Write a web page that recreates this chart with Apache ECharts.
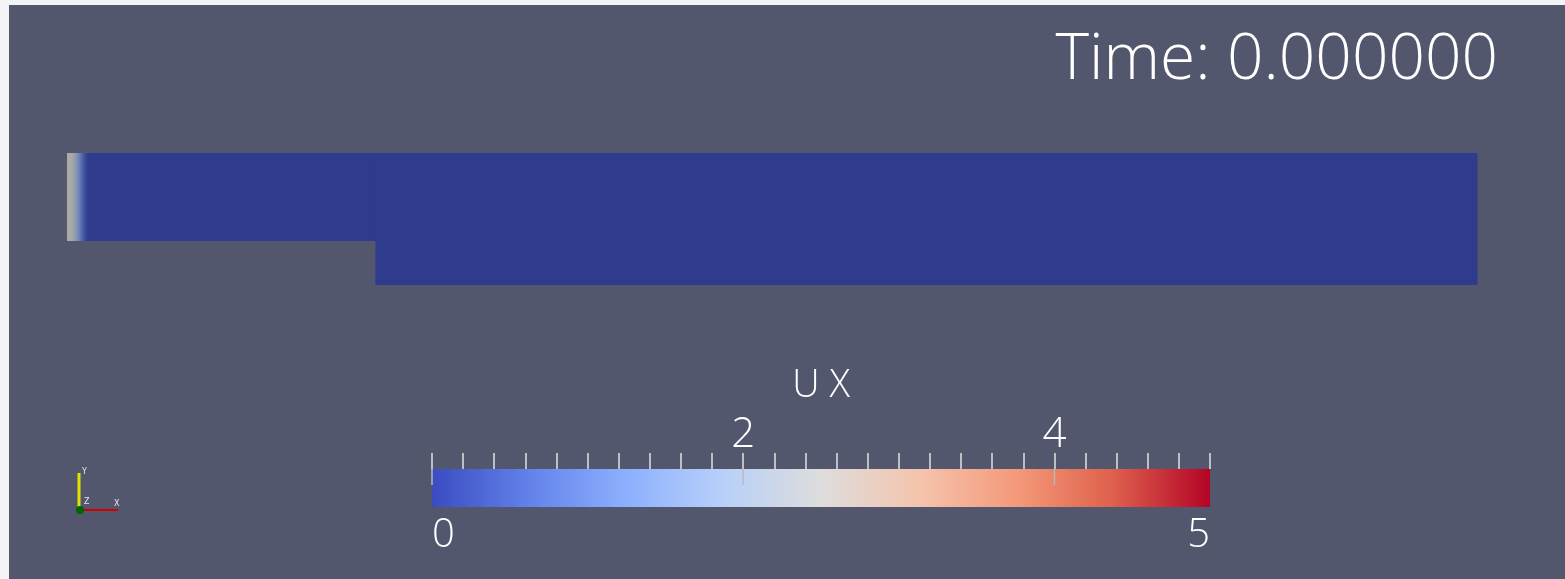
<!DOCTYPE html>
<html>
<head>
<meta charset="utf-8">
<script src="https://cdn.jsdelivr.net/npm/echarts@6/dist/echarts.min.js"></script>
<style>
html,body{margin:0;padding:0;background:#f4f4f4;}
#chart{width:1565px;height:579px;}
</style>
</head>
<body>
<div id="chart"></div>
<script>
// ---- data ----
const timeLabel = 'Time: 0.000000';
const fieldName = 'U X';
const rangeMin = 0;
const rangeMax = 5;
const topTickLabels = [2, 4];
const bottomTickLabels = [0, 5];
const majorTicks = [0, 2, 4];
// domain blocks: [x0, x1, y0, y1, UX]
const domainBlocks = [
  [0, 7, 1, 3, 0],
  [7, 32, 0, 3, 0]
];
// inlet profile along x (upstream channel y 1..3): positions and UX values
const inletX = [0, 0.08, 0.16, 0.24, 0.32, 0.40, 0.48];
const inletU = [2.5, 2.4, 2.0, 1.4, 0.8, 0.3, 0];
// colormap stops (Cool to Warm)
const cmapPos = [0, 0.125, 0.25, 0.375, 0.5, 0.625, 0.75, 0.875, 1];
const cmapRGB = [
  [59,76,192],[98,130,234],[141,176,254],[184,208,249],[221,221,221],
  [245,196,173],[244,154,123],[222,96,77],[180,4,38]
];

function cmap(v, k) {
  let t = (v - rangeMin) / (rangeMax - rangeMin);
  t = Math.max(0, Math.min(1, t));
  let i = 0;
  while (i < cmapPos.length - 2 && t > cmapPos[i + 1]) i++;
  const f = (t - cmapPos[i]) / (cmapPos[i + 1] - cmapPos[i]);
  const c = cmapRGB[i].map((a, j) => a + (cmapRGB[i + 1][j] - a) * f);
  const kk = k || [1, 1, 1];
  return 'rgb(' + c.map((a, j) => Math.round(a * kk[j])).join(',') + ')';
}
const shade = [0.79, 0.77, 0.73];

// cells: [x0, x1, y0, y1, uLeft, uRight]
const cells = domainBlocks.map(b => [b[0], b[1], b[2], b[3], b[4], b[4]]);
for (let i = 0; i < inletX.length - 1; i++) {
  cells.push([inletX[i], inletX[i + 1], 1, 3, inletU[i], inletU[i + 1]]);
}

const FONT = 'Open Sans';
const chart = echarts.init(document.getElementById('chart'));
const isOneOf = (v, arr) => arr.some(a => Math.abs(a - v) < 1e-6);

chart.setOption({
  backgroundColor: '#f4f4f4',
  animation: false,
  title: {
    text: timeLabel,
    right: 62,
    top: 24,
    textStyle: { color: '#ffffff', fontSize: 64, fontWeight: 300, fontFamily: FONT }
  },
  graphic: [
    { type: 'rect', z: -100, shape: { x: 9, y: 5, width: 1556, height: 574 }, style: { fill: '#52576e' }, silent: true },
    { type: 'line', shape: { x1: 79, y1: 510, x2: 79, y2: 473 }, style: { stroke: '#e3e300', lineWidth: 3 } },
    { type: 'line', shape: { x1: 79, y1: 510, x2: 118, y2: 510 }, style: { stroke: '#d40000', lineWidth: 2 } },
    { type: 'circle', shape: { cx: 80, cy: 510, r: 4 }, style: { fill: '#006400' } },
    { type: 'text', x: 82, y: 468, style: { text: 'Y', fill: '#e8e8e8', fontSize: 8, fontFamily: 'DejaVu Sans' } },
    { type: 'text', x: 84, y: 498, style: { text: 'Z', fill: '#e8e8e8', fontSize: 8, fontFamily: 'DejaVu Sans' } },
    { type: 'text', x: 114, y: 500, style: { text: 'X', fill: '#e8e8e8', fontSize: 8, fontFamily: 'DejaVu Sans' } }
  ],
  grid: [
    { left: 67, top: 153, width: 1410, height: 132 },
    { left: 432, top: 469, width: 778, height: 38 }
  ],
  xAxis: [
    { gridIndex: 0, type: 'value', min: 0, max: 32, show: false },
    {
      gridIndex: 1, type: 'value', min: rangeMin, max: rangeMax, interval: 0.2, position: 'top', z: 10,
      axisLine: { show: true, onZero: false, lineStyle: { color: 'rgba(0,0,0,0)', width: 1 } },
      axisTick: { show: true, inside: false, interval: 0, length: 16, lineStyle: { color: '#e2e2e2', width: 1.5 } },
      splitLine: { show: false },
      axisLabel: {
        show: true, margin: 13, interval: 0, color: '#ffffff', fontSize: 42, fontWeight: 300, fontFamily: FONT,
        formatter: v => isOneOf(v, topTickLabels) ? String(Math.round(v)) : ''
      },
      name: fieldName, nameLocation: 'middle', nameGap: 64,
      nameTextStyle: { color: '#ffffff', fontSize: 38, fontWeight: 300, fontFamily: FONT }
    },
    {
      gridIndex: 1, type: 'value', min: rangeMin, max: rangeMax, interval: 5, position: 'bottom', z: 10,
      axisLine: { show: false, onZero: false }, axisTick: { show: false }, splitLine: { show: false },
      axisLabel: {
        show: true, margin: 9, color: '#ffffff', fontSize: 40, fontWeight: 300, fontFamily: FONT,
        alignMinLabel: 'left', alignMaxLabel: 'right',
        formatter: v => isOneOf(v, bottomTickLabels) ? String(Math.round(v)) : ''
      }
    }
  ],
  yAxis: [
    { gridIndex: 0, type: 'value', min: 0, max: 3, show: false },
    { gridIndex: 1, type: 'value', min: 0, max: 1, show: false }
  ],
  series: [
    {
      type: 'custom', xAxisIndex: 0, yAxisIndex: 0, data: cells,
      renderItem: (params, api) => {
        const p0 = api.coord([api.value(0), api.value(3)]);
        const p1 = api.coord([api.value(1), api.value(2)]);
        const uL = api.value(4), uR = api.value(5);
        const fill = uL === uR ? cmap(uL, shade) :
          new echarts.graphic.LinearGradient(0, 0, 1, 0, [
            { offset: 0, color: cmap(uL, shade) },
            { offset: 1, color: cmap(uR, shade) }
          ]);
        return {
          type: 'rect',
          shape: { x: p0[0], y: p0[1], width: p1[0] - p0[0] + 0.5, height: p1[1] - p0[1] },
          style: { fill: fill }
        };
      }
    },
    {
      type: 'custom', xAxisIndex: 1, yAxisIndex: 1, data: [[rangeMin, rangeMax, 0, 1]],
      renderItem: (params, api) => {
        const p0 = api.coord([api.value(0), api.value(3)]);
        const p1 = api.coord([api.value(1), api.value(2)]);
        return {
          type: 'rect',
          shape: { x: p0[0], y: p0[1], width: p1[0] - p0[0], height: p1[1] - p0[1] },
          style: {
            fill: new echarts.graphic.LinearGradient(0, 0, 1, 0,
              cmapPos.map((p, i) => ({ offset: p, color: cmap(rangeMin + p * (rangeMax - rangeMin)) })))
          }
        };
      }
    },
    {
      type: 'custom', xAxisIndex: 1, yAxisIndex: 1, z: 5, data: majorTicks.map(v => [v]),
      renderItem: (params, api) => {
        const a = api.coord([api.value(0), 1]);
        const b = api.coord([api.value(0), 0.58]);
        return {
          type: 'line',
          shape: { x1: a[0], y1: a[1], x2: b[0], y2: b[1] },
          style: { stroke: 'rgba(185,185,190,0.95)', lineWidth: 1.5 }
        };
      }
    }
  ]
});
</script>
</body>
</html>
